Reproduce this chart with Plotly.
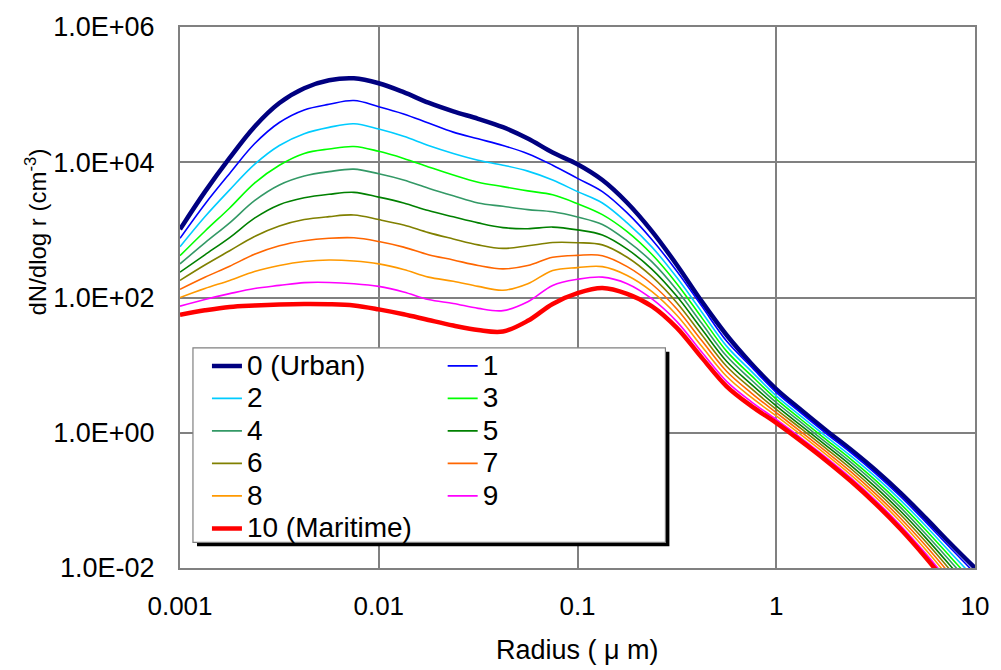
import plotly.graph_objects as go

# ---- data (dN/dlog r in cm^-3) ----
radius = [0.001, 0.001334, 0.001778, 0.002371, 0.003162, 0.004217, 0.005623, 0.007499,
          0.01, 0.01334, 0.01778, 0.02371, 0.03162, 0.04217, 0.05623, 0.07499,
          0.1, 0.1334, 0.1778, 0.2371, 0.3162, 0.4217, 0.5623, 0.7499,
          1.0, 1.334, 1.778, 2.371, 3.162, 4.217, 5.623, 7.499, 10.0]

s0 = [1020, 3650, 11600, 33600, 75200, 124500, 162900, 174100, 147200, 108700, 75900,
      56500, 43900, 33000, 22400, 13900, 9350, 5460, 2520, 951, 303, 87.5, 27.9, 10.5,
      4.43, 2.17, 1.09, 0.565, 0.279, 0.129, 0.0556, 0.0232, 0.0100]
s1 = [751, 2400, 6840, 18750, 38700, 59400, 71900, 81700, 66400, 51900, 38000,
      27900, 22200, 17700, 13400, 9040, 5780, 3680, 1780, 715, 245, 74.5, 22.7, 9.38,
      3.95, 1.95, 0.98, 0.507, 0.249, 0.114, 0.0485, 0.0199, 0.00834]
s2 = [561, 1560, 3900, 9290, 17700, 26500, 32800, 37100, 31000, 24200, 17700,
      13500, 10700, 9040, 7390, 5460, 3680, 2500, 1270, 556, 197, 61.2, 19.1, 8.09,
      3.52, 1.75, 0.886, 0.455, 0.222, 0.101, 0.0425, 0.0171, 0.00695]
s3 = [415, 955, 2110, 4920, 9040, 13500, 15700, 17100, 14500, 11400, 8540,
      6460, 5060, 4360, 3770, 3300, 2440, 1680, 941, 432, 160, 50.4, 16.1, 6.98,
      3.14, 1.57, 0.798, 0.409, 0.198, 0.0889, 0.0371, 0.0147, 0.0058]
s4 = [314, 642, 1270, 2700, 4610, 6250, 7260, 7910, 6750, 5460, 4130,
      3190, 2500, 2230, 1990, 1850, 1550, 1200, 686, 336, 129, 41.5, 13.6, 6.02,
      2.80, 1.42, 0.722, 0.367, 0.177, 0.0788, 0.0324, 0.0127, 0.00484]
s5 = [237, 428, 769, 1490, 2360, 2980, 3360, 3590, 3050, 2500, 1930,
      1560, 1270, 1080, 1040, 1100, 1000, 840, 519, 261, 104, 34.1, 11.4, 5.19,
      2.49, 1.27, 0.650, 0.330, 0.157, 0.0695, 0.0284, 0.0109, 0.00404]
s6 = [179, 302, 491, 798, 1140, 1420, 1570, 1660, 1420, 1180, 910,
      735, 600, 532, 581, 650, 646, 600, 393, 203, 83.7, 28.1, 9.64, 4.48,
      2.22, 1.15, 0.588, 0.296, 0.140, 0.0617, 0.0248, 0.00935, 0.00337]
s7 = [132, 199, 290, 435, 581, 690, 752, 764, 673, 556, 429,
      359, 297, 265, 297, 393, 420, 415, 286, 157, 67.5, 23.1, 8.11, 3.86,
      1.98, 1.03, 0.530, 0.266, 0.125, 0.0544, 0.0217, 0.00804, 0.00281]
s8 = [100, 136, 179, 242, 297, 341, 359, 347, 314, 259, 200,
      174, 146, 128, 160, 251, 277, 286, 212, 122, 54.6, 19.0, 6.84, 3.33,
      1.77, 0.929, 0.479, 0.239, 0.112, 0.0482, 0.0189, 0.0069, 0.00234]
s9 = [74.6, 93.5, 114, 136, 151, 166, 167, 160, 146, 121, 93.5,
      81.7, 69.1, 64.0, 86.5, 151, 186, 200, 160, 95.1, 44.0, 15.6, 5.76, 2.87,
      1.57, 0.834, 0.432, 0.215, 0.0997, 0.0426, 0.0166, 0.00594, 0.00195]
s10 = [55.6, 64.6, 72.6, 76.4, 79.1, 80.4, 79.8, 76.4, 66.8, 56.5, 46.5,
       38.5, 33.0, 31.4, 45.2, 80.4, 116, 138, 113, 73.9, 35.5, 12.9, 4.86, 2.48,
       1.40, 0.751, 0.390, 0.193, 0.0889, 0.0377, 0.0145, 0.0051, 0.00163]

series = [s0, s1, s2, s3, s4, s5, s6, s7, s8, s9, s10]
names = ["0 (Urban)", "1", "2", "3", "4", "5", "6", "7", "8", "9", "10 (Maritime)"]
colors = ["#000080", "#0000FF", "#00CCFF", "#00FF00", "#339966", "#008000",
          "#808000", "#FF6600", "#FF9900", "#FF00FF", "#FF0000"]
widths = [4.5, 1.6, 1.6, 1.6, 1.6, 1.6, 1.6, 1.6, 1.6, 1.6, 4.5]

y_tickvals = [1e-2, 1e0, 1e2, 1e4, 1e6]
y_ticktext = ["1.0E-02", "1.0E+00", "1.0E+02", "1.0E+04", "1.0E+06"]
x_tickvals = [0.001, 0.01, 0.1, 1, 10]
x_ticktext = ["0.001", "0.01", "0.1", "1", "10"]
black_y_grid = [100, 1]
black_x_grid = [1]

FONT = "Arial, 'Liberation Sans', sans-serif"

fig = go.Figure()
for i, (vals, nm, col, w) in enumerate(zip(series, names, colors, widths)):
    fig.add_trace(go.Scatter(
        x=radius, y=vals, mode="lines",
        name="<span style='font-size:28px'>" + nm + "</span>",
        line=dict(color=col, width=w, shape="spline", smoothing=1.0),
        legend="legend" if i % 2 == 0 else "legend2",
        hoverinfo="skip",
    ))

# some grid lines are black in the reference (the rest are grey)
shapes = []
for yv in black_y_grid:
    shapes.append(dict(type="line", xref="paper", yref="y", x0=0, x1=1, y0=yv, y1=yv,
                       line=dict(color="black", width=1), layer="below"))
for xv in black_x_grid:
    shapes.append(dict(type="line", xref="x", yref="paper", x0=xv, x1=xv, y0=0, y1=1,
                       line=dict(color="black", width=1), layer="below"))

# legend frame with drop shadow
shapes.append(dict(type="rect", xref="paper", yref="paper", x0=0.0214, x1=0.6156,
                   y0=0.0401, y1=0.3996, fillcolor="black", line=dict(width=0), layer="above"))
shapes.append(dict(type="rect", xref="paper", yref="paper", x0=0.0163, x1=0.6106,
                   y0=0.0474, y1=0.4069, fillcolor="white",
                   line=dict(color="#808080", width=1.2), layer="above"))

legend_common = dict(font=dict(family=FONT, size=22.7, color="black"),
                     bgcolor="rgba(0,0,0,0)", borderwidth=0, yanchor="top",
                     xanchor="left", y=0.4129, orientation="v",
                     itemclick=False, itemdoubleclick=False)

fig.update_layout(
    width=1001, height=670,
    margin=dict(l=180, r=25, t=20, b=102),
    paper_bgcolor="white", plot_bgcolor="white",
    font=dict(family=FONT, color="black"),
    showlegend=True,
    legend=dict(x=0.0339, **legend_common),
    legend2=dict(x=0.3304, **legend_common),
    shapes=shapes,
    xaxis=dict(type="log", range=[-3, 1], tickvals=x_tickvals, ticktext=x_ticktext,
               showgrid=True, gridcolor="#808080", gridwidth=1.5,
               showline=True, linecolor="#808080", linewidth=2, mirror=True,
               ticks="", ticklabelstandoff=14,
               tickfont=dict(family=FONT, size=26, color="black"), zeroline=False),
    yaxis=dict(type="log", range=[-2, 6], tickvals=y_tickvals, ticktext=y_ticktext,
               showgrid=True, gridcolor="#808080", gridwidth=1.5,
               showline=True, linecolor="#808080", linewidth=2, mirror=True,
               ticks="", ticklabelstandoff=18,
               tickfont=dict(family=FONT, size=27, color="black"), zeroline=False),
    annotations=[
        dict(text="Radius ( μ m)", xref="paper", yref="paper", x=0.5, y=-0.1515,
             xanchor="center", yanchor="middle", showarrow=False,
             font=dict(family=FONT, size=27, color="black")),
        dict(text="dN/dlog r (cm<sup>-3</sup>)", xref="paper", yref="paper",
             x=-0.1809, y=0.6204, xanchor="center", yanchor="middle", showarrow=False,
             textangle=-90, font=dict(family=FONT, size=24, color="black")),
    ],
)

fig.write_html("out.html")
